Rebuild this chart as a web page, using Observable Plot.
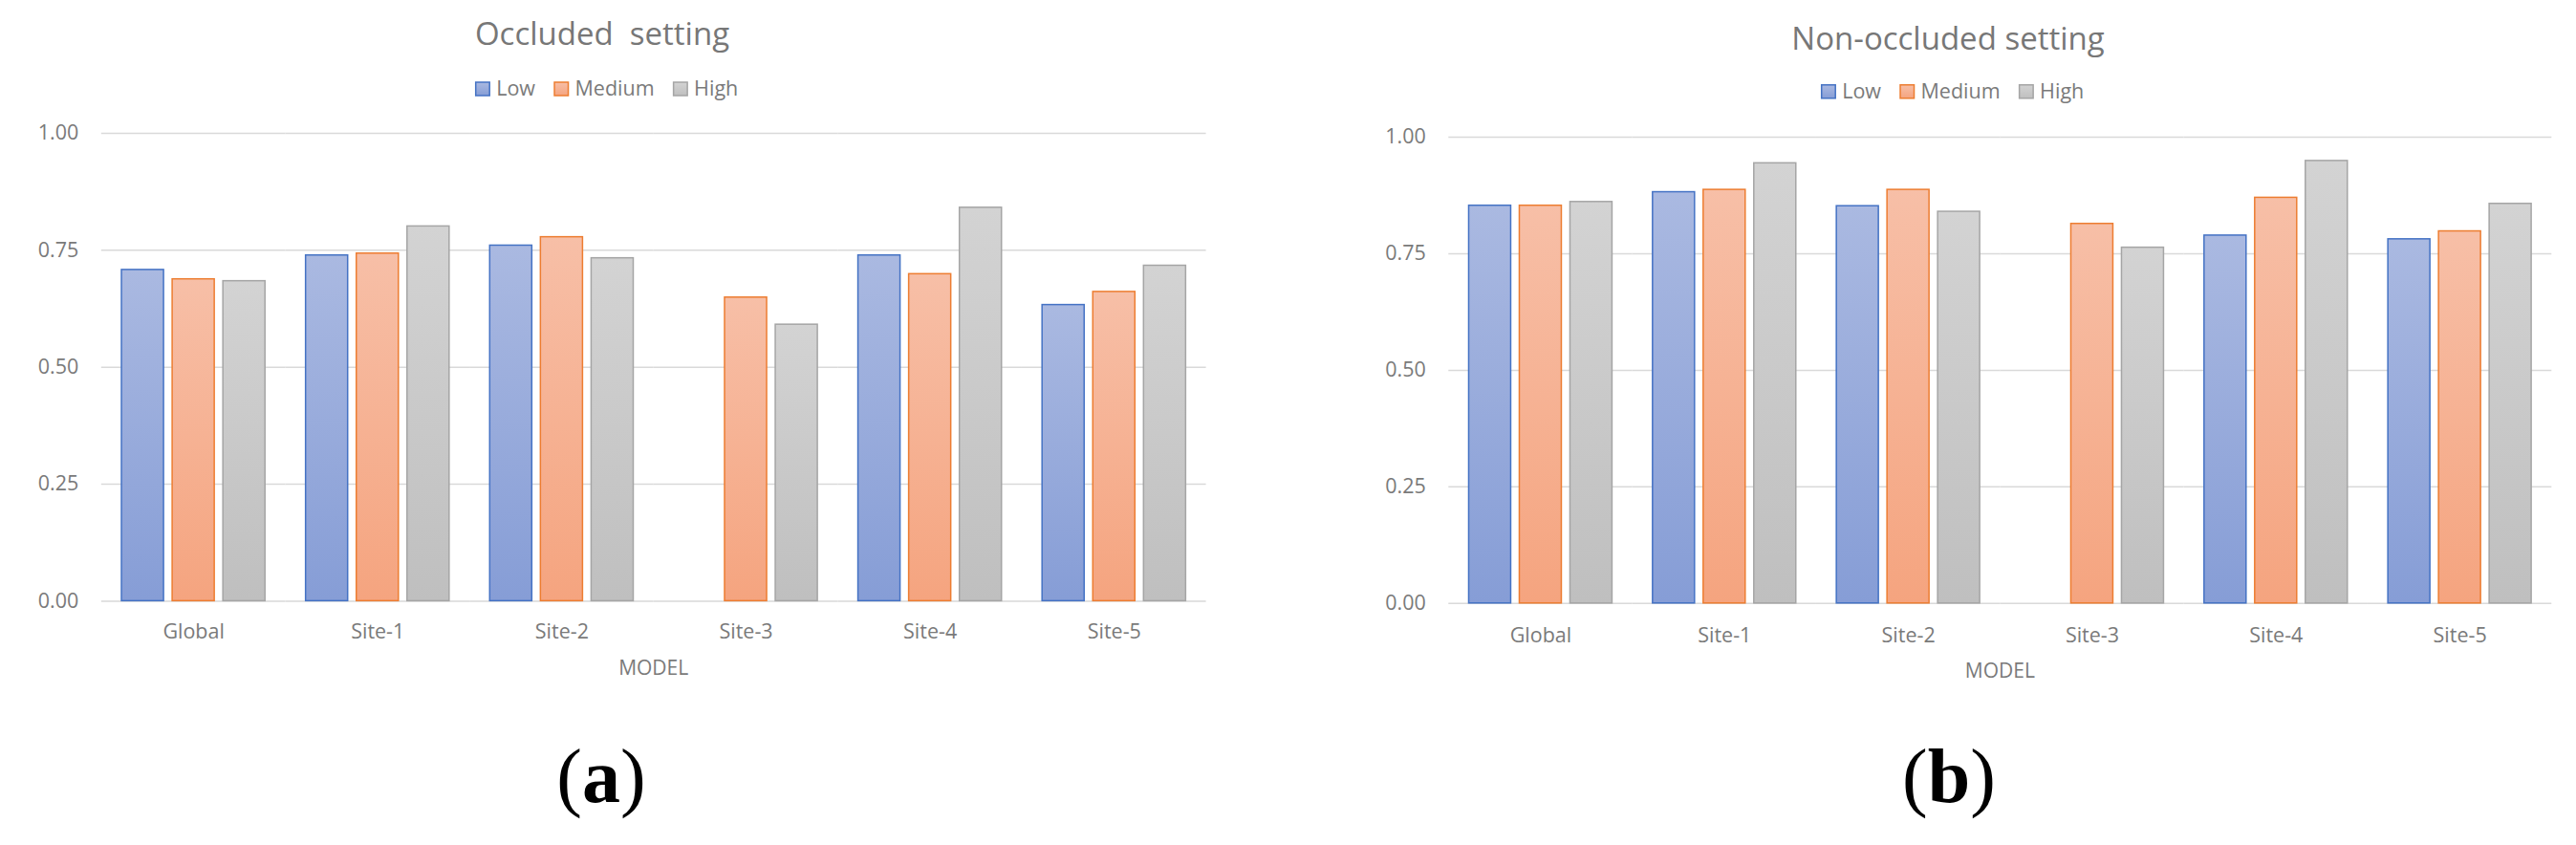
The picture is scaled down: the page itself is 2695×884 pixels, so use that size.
<!DOCTYPE html>
<html>
<head>
<meta charset="utf-8">
<script src="https://cdn.jsdelivr.net/npm/d3@7"></script>
<script src="https://cdn.jsdelivr.net/npm/@observablehq/plot@0.6"></script>
<style>
  html, body { margin: 0; padding: 0; background: #fff; }
  #root { position: relative; width: 2695px; height: 884px; overflow: hidden; background: #fff; }
  #overlay { position: absolute; left: 0; top: 0; pointer-events: none; }
</style>
</head>
<body>
<div id="root"></div>
<script>
// ---------------- data ----------------
const models = ["Global", "Site-1", "Site-2", "Site-3", "Site-4", "Site-5"];
const levels = ["Low", "Medium", "High"];

// (a) Occluded setting
const occludedLow    = [0.708, 0.739, 0.760, null, 0.739, 0.633];
const occludedMedium = [0.688, 0.743, 0.778, 0.649, 0.699, 0.661];
const occludedHigh   = [0.684, 0.801, 0.733, 0.591, 0.841, 0.717];

// (b) Non-occluded setting
const nonOccludedLow    = [0.853, 0.882, 0.852, null, 0.789, 0.781];
const nonOccludedMedium = [0.853, 0.887, 0.887, 0.814, 0.870, 0.798];
const nonOccludedHigh   = [0.861, 0.944, 0.840, 0.763, 0.949, 0.857];

const yTicks = [0, 0.25, 0.5, 0.75, 1];
const titles = ["Occluded  setting", "Non-occluded setting"];
const axisTitle = "MODEL";
const panelLabels = ["a", "b"];

// ---------------- styles ----------------
const strokeColors = { Low: "#4472c4", Medium: "#ed7d31", High: "#a5a5a5" };
const gradStops = {
  Low:    ["#aab9e1", "#869dd6"],
  Medium: ["#f7bfa7", "#f5a47f"],
  High:   ["#d3d3d3", "#bfbfbf"]
};
const textGray = "#7a7a7a";
const font = "'Open Sans', 'Noto Sans', sans-serif";

function toRows(low, med, high) {
  const rows = [];
  models.forEach((m, i) => {
    rows.push({ model: m, level: "Low", value: low[i] });
    rows.push({ model: m, level: "Medium", value: med[i] });
    rows.push({ model: m, level: "High", value: high[i] });
  });
  return rows;
}

const root = document.getElementById("root");

// overlay svg (gradients, titles, legends, labels)
const NS = "http://www.w3.org/2000/svg";
const overlay = d3.select(root).append("svg")
  .attr("id", "overlay").attr("width", 2695).attr("height", 884);
const defs = overlay.append("defs");
for (const L of levels) {
  const g = defs.append("linearGradient").attr("id", `grad-${L}`)
    .attr("x1", 0).attr("y1", 0).attr("x2", 0).attr("y2", 1);
  g.append("stop").attr("offset", "0%").attr("stop-color", gradStops[L][0]);
  g.append("stop").attr("offset", "100%").attr("stop-color", gradStops[L][1]);
}

function makePanel(rows, cfg) {
  const svg = Plot.plot({
    width: cfg.width,
    height: cfg.height,
    marginLeft: cfg.ml,
    marginRight: cfg.mr,
    marginTop: cfg.mt,
    marginBottom: cfg.mb,
    style: { fontFamily: font, fontSize: "21.5px", color: textGray, background: "transparent", overflow: "visible" },
    fx: { domain: models, padding: 0, round: false, axis: "bottom", label: null, tickSize: 0, tickPadding: cfg.fxPad },
    x: { domain: levels, paddingInner: 0.17, paddingOuter: 0.4, round: false, axis: null },
    y: { domain: [0, 1], ticks: yTicks, tickFormat: ".2f", tickSize: 0, tickPadding: 24, label: null },
    marks: [
      Plot.ruleY(yTicks, { stroke: "#d9d9d9", strokeWidth: 1.5 }),
      ...levels.map(L => Plot.barY(rows, {
        filter: d => d.level === L && d.value != null,
        fx: "model", x: "level", y: "value",
        fill: `url(#grad-${L})`, stroke: strokeColors[L], strokeWidth: 1.5
      }))
    ]
  });
  svg.style.position = "absolute";
  svg.style.left = cfg.left + "px";
  svg.style.top = cfg.top + "px";
  root.insertBefore(svg, overlay.node());
}

makePanel(toRows(occludedLow, occludedMedium, occludedHigh), {
  left: 0, top: 119.3, width: 1276.6, height: 579.4,
  ml: 105.8, mr: 15, mt: 20, mb: 70, fxPad: 24.3
});
makePanel(toRows(nonOccludedLow, nonOccludedMedium, nonOccludedHigh), {
  left: 1390, top: 122.7, width: 1294.3, height: 577.8,
  ml: 125.3, mr: 15, mt: 20, mb: 70, fxPad: 25
});

// titles
const titleSpecs = [
  { x: 630, y: 46.7 },
  { x: 2038, y: 51.7 }
];
titleSpecs.forEach((s, i) => {
  overlay.append("text").attr("x", s.x).attr("y", s.y)
    .attr("text-anchor", "middle").attr("font-family", font).attr("font-size", 33)
    .attr("fill", "#777").style("white-space", "pre").text(titles[i]);
});

// legends
const legendSpecs = [
  { x: 497.7, y: 100, sy: 86 },
  { x: 1905.7, y: 103.3, sy: 88.8 }
];
legendSpecs.forEach(s => {
  let x = s.x;
  levels.forEach(L => {
    overlay.append("rect").attr("x", x).attr("y", s.sy).attr("width", 14.5).attr("height", 14)
      .attr("fill", `url(#grad-${L})`).attr("stroke", strokeColors[L]).attr("stroke-width", 1.5);
    x += 21.5;
    const t = overlay.append("text").attr("x", x).attr("y", s.y)
      .attr("font-family", font).attr("font-size", 21.5).attr("fill", textGray).text(L);
    x += t.node().getComputedTextLength() + 20;
  });
});

// axis titles
[{ x: 683.7, y: 706 }, { x: 2092.3, y: 709 }].forEach(s => {
  overlay.append("text").attr("x", s.x).attr("y", s.y).attr("text-anchor", "middle")
    .attr("font-family", font).attr("font-size", 21).attr("fill", textGray).text(axisTitle);
});

// panel labels (a), (b)
[{ x: 629, y: 838.7 }, { x: 2039, y: 838.7 }].forEach((s, i) => {
  const t = overlay.append("text").attr("x", s.x).attr("y", s.y).attr("text-anchor", "middle")
    .attr("font-family", "'Liberation Serif', 'DejaVu Serif', serif").attr("font-size", 80).attr("fill", "#000");
  t.append("tspan").text("(");
  t.append("tspan").attr("font-weight", "bold").text(panelLabels[i]);
  t.append("tspan").text(")");
});
</script>
</body>
</html>
